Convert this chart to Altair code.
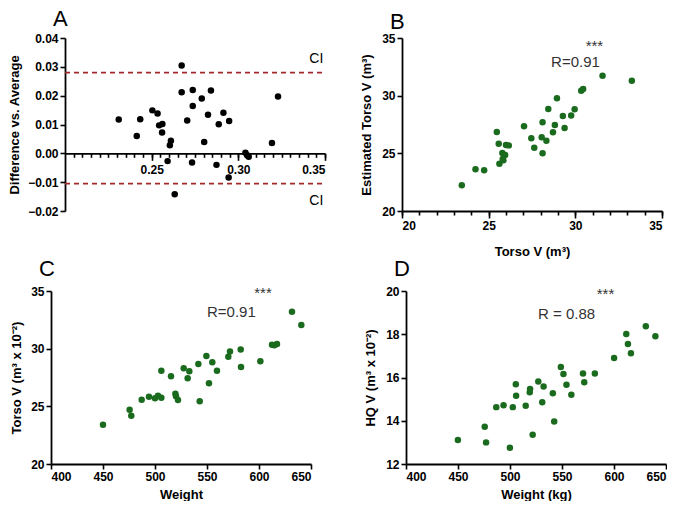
import altair as alt
import pandas as pd

FONT = "Liberation Sans"
GREEN = "#1b6b1f"
RED = "#a3282b"

# ---------------- Panel A (Bland-Altman) ----------------
a_avg = [0.231, 0.2414, 0.2434, 0.2504, 0.2534, 0.2543, 0.2562, 0.2560, 0.2592, 0.2605,
         0.2611, 0.2633, 0.2673, 0.2673, 0.2705, 0.2733, 0.2737, 0.2737, 0.2789, 0.2803,
         0.2825, 0.2842, 0.2874, 0.2887, 0.2914, 0.2944, 0.2947, 0.3041, 0.3051, 0.3060,
         0.3194, 0.3229]
a_diff = [0.0117, 0.0060, 0.0118, 0.0149, 0.0138, 0.0097, 0.0102, 0.0072, -0.0027, 0.0028,
          0.0044, -0.0142, 0.0305, 0.0212, 0.0114, -0.0032, 0.0164, 0.0220, 0.0190, 0.0039,
          0.0134, 0.0218, -0.0040, 0.0101, 0.0141, -0.0084, 0.0112, 0.0002, -0.0007, -0.0012,
          0.0036, 0.0197]
ci_limits = [0.028, -0.0105]
ci_labels = ["CI", "CI"]
ci_label_y = [0.0327, -0.0165]
ci_label_x = [0.349, 0.349]
a_x_domain = [0.2, 0.35]
a_x_ticks = [0.25, 0.30, 0.35]
a_x_minor = [round(0.2 + 0.005 * i, 3) for i in range(1, 31)]
a_y_ticks = [-0.02, -0.01, 0.0, 0.01, 0.02, 0.03, 0.04]

# ---------------- Panel B ----------------
b_torso = [23.45, 24.24, 24.74, 25.47, 25.58, 25.62, 25.79, 25.81, 25.95, 25.85,
           26.00, 26.16, 27.04, 27.46, 27.63, 28.06, 28.11, 28.11, 28.33, 28.44,
           28.71, 28.82, 28.94, 29.28, 29.38, 29.76, 29.96, 30.34, 30.45, 31.57, 33.26]
b_est = [22.23, 23.61, 23.53, 26.85, 25.84, 24.10, 25.03, 24.51, 24.86, 24.39,
         25.72, 25.69, 27.34, 26.30, 25.49, 26.39, 27.69, 25.00, 26.10, 28.84,
         26.82, 27.46, 29.77, 28.24, 27.20, 28.29, 28.82, 30.43, 30.58, 31.73, 31.30]
b_ticks = [20, 25, 30, 35]
b_x_minor = list(range(20, 36))

# ---------------- Panel C ----------------
c_weight = [450.0, 475.6, 477.2, 487.2, 494.2, 500.0, 502.9, 506.1, 506.1, 515.4,
            519.6, 520.2, 522.1, 527.6, 531.4, 533.0, 541.7, 543.0, 549.4, 551.9,
            555.1, 559.6, 570.5, 572.1, 582.4, 582.7, 601.3, 612.5, 614.7, 617.3,
            631.7, 640.7]
c_torso = [23.40, 24.70, 24.18, 25.57, 25.83, 25.71, 25.91, 25.74, 28.08, 27.61,
           26.09, 25.88, 25.54, 28.31, 27.44, 28.05, 28.68, 25.45, 29.37, 27.01,
           28.83, 28.08, 29.29, 29.75, 29.92, 28.42, 28.91, 30.33, 30.30, 30.41,
           33.21, 32.06]
weight_ticks = [400, 450, 500, 550, 600, 650]
c_y_ticks = [20, 25, 30, 35]

# ---------------- Panel D ----------------
d_weight = [449.9, 475.7, 477.0, 486.8, 493.8, 499.9, 502.7, 505.6, 505.9, 515.1,
            519.3, 519.0, 521.8, 527.2, 531.0, 532.3, 541.2, 542.5, 548.9, 551.4,
            554.3, 559.0, 570.2, 571.4, 581.6, 600.1, 611.8, 613.4, 616.3, 630.6, 639.8]
d_hq = [13.11, 13.72, 13.00, 14.63, 14.72, 12.75, 14.63, 15.69, 15.16, 14.69,
        15.47, 15.32, 13.35, 15.82, 14.86, 15.58, 15.27, 13.97, 16.49, 16.16,
        15.66, 15.20, 16.19, 15.78, 16.18, 16.90, 18.01, 17.55, 17.12, 18.37, 17.91]
d_y_ticks = [12, 14, 16, 18, 20]

# annotations (data coordinates)
ann_b = {"x": [31.1, 28.6], "y": [34.3, 32.9], "t": ["***", "R=0.91"]}
ann_c = {"x": [603.8, 550.0], "y": [34.85, 33.18], "t": ["***", "R=0.91"]}
ann_d = {"x": [591.8, 526.9], "y": [19.85, 18.94], "t": ["***", "R = 0.88"]}

W, H = 260, 173
PAD = 14  # extra room left of panel A's y axis (panel A sits further right than C)


def panel_title(letter, off, dx=-12):
    return alt.TitleParams(letter, anchor="start", frame="group", dx=dx,
                           fontSize=22, fontWeight="normal", font=FONT,
                           color="black", offset=off)


def annotations(d, xenc, yenc):
    df = pd.DataFrame(d)
    stars = alt.Chart(df[df.t == "***"]).mark_text(
        font=FONT, fontSize=15, color="#333333", align="center", baseline="middle"
    ).encode(x=xenc("x:Q"), y=yenc("y:Q"), text="t:N")
    r = alt.Chart(df[df.t != "***"]).mark_text(
        font=FONT, fontSize=15, color="#333333", align="left", baseline="middle"
    ).encode(x=xenc("x:Q"), y=yenc("y:Q"), text="t:N")
    return [stars, r]


# ----- Panel A -----
dfA = pd.DataFrame({"avg": a_avg, "diff": a_diff})
dfCI = pd.DataFrame({"ci": ci_limits, "lab": ci_labels, "ly": ci_label_y, "lx": ci_label_x})
xsA = alt.Scale(domain=a_x_domain, range=[PAD, W + PAD], nice=False, zero=False)
ysA = alt.Scale(domain=[-0.02, 0.04], nice=False, zero=False)
x_off = -H / 3.0
axA = alt.Axis(values=a_x_ticks, format=".2f", title=None, offset=x_off,
               orient="bottom", tickSize=7, labelPadding=4)


def xA(f):
    return alt.X(f, scale=xsA, axis=axA)


def yA(f):
    return alt.Y(f, scale=ysA,
                 axis=alt.Axis(values=a_y_ticks, format=".2f", offset=-PAD,
                               title="Difference vs. Average"))


ptsA = alt.Chart(dfA).mark_circle(size=42, color="black", opacity=1).encode(
    x=xA("avg:Q"), y=yA("diff:Q"))
rulesA = alt.Chart(dfCI).mark_rule(color=RED, strokeDash=[5, 4], strokeWidth=1.6).encode(
    x=alt.X(datum=a_x_domain[0], type="quantitative", scale=xsA, axis=axA),
    x2=alt.X2(datum=a_x_domain[1]),
    y=yA("ci:Q"))
ciText = alt.Chart(dfCI).mark_text(font=FONT, fontSize=14, align="right",
                                   baseline="middle", color="black").encode(
    x=xA("lx:Q"), y=yA("ly:Q"), text="lab:N")
minorA = alt.Chart(dfA).mark_circle(opacity=0).encode(
    x=alt.X("avg:Q", scale=xsA,
            axis=alt.Axis(values=a_x_minor, labels=False, domain=False, title=None,
                          offset=x_off, orient="bottom", tickSize=4)),
    y=yA("diff:Q"))
chartA = alt.layer(alt.layer(rulesA, ptsA, ciText), minorA).resolve_axis(
    x="independent").properties(width=W + PAD, height=H,
                                title=panel_title("A", 1, dx=PAD - 12))

# ----- Panel B -----
dfB = pd.DataFrame({"torso": b_torso, "est": b_est})
xsB = alt.Scale(domain=[20, 35], nice=False, zero=False)
ysB = alt.Scale(domain=[20, 35], nice=False, zero=False)


def xB(f):
    return alt.X(f, scale=xsB,
                 axis=alt.Axis(values=b_ticks, title="Torso V (m³)", orient="bottom",
                               tickSize=7, titlePadding=14))


def yB(f):
    return alt.Y(f, scale=ysB, axis=alt.Axis(values=b_ticks, title="Estimated Torso V (m³)",
                                              titlePadding=8))


ptsB = alt.Chart(dfB).mark_circle(size=42, color=GREEN, opacity=1).encode(
    x=xB("torso:Q"), y=yB("est:Q"))
minorB = alt.Chart(dfB).mark_circle(opacity=0).encode(
    x=alt.X("torso:Q", scale=xsB,
            axis=alt.Axis(values=b_x_minor, labels=False, domain=False, title=None,
                          orient="bottom", tickSize=4)),
    y=yB("est:Q"))
chartB = alt.layer(alt.layer(ptsB, *annotations(ann_b, xB, yB)), minorB).resolve_axis(
    x="independent").properties(width=W, height=H, title=panel_title("B", -2))

# ----- Panel C -----
dfC = pd.DataFrame({"w": c_weight, "t": c_torso})
xsW = alt.Scale(domain=[400, 650], nice=False, zero=False)
ysC = alt.Scale(domain=[20, 35], nice=False, zero=False)


def xC(f):
    return alt.X(f, scale=xsW, axis=alt.Axis(values=weight_ticks, title="Weight"))


def yC(f):
    return alt.Y(f, scale=ysC, axis=alt.Axis(values=c_y_ticks, title="Torso V (m³ x 10⁻²)",
                                              titlePadding=7))


ptsC = alt.Chart(dfC).mark_circle(size=42, color=GREEN, opacity=1).encode(
    x=xC("w:Q"), y=yC("t:Q"))
chartC = alt.layer(ptsC, *annotations(ann_c, xC, yC)).properties(
    width=W, height=H, title=panel_title("C", 4))

# ----- Panel D -----
dfD = pd.DataFrame({"w": d_weight, "hq": d_hq})
ysD = alt.Scale(domain=[12, 20], nice=False, zero=False)


def xD(f):
    return alt.X(f, scale=xsW, axis=alt.Axis(values=weight_ticks, title="Weight (kg)"))


def yD(f):
    return alt.Y(f, scale=ysD, axis=alt.Axis(values=d_y_ticks, title="HQ V (m³ x 10⁻²)",
                                              titlePadding=8))


ptsD = alt.Chart(dfD).mark_circle(size=42, color=GREEN, opacity=1).encode(
    x=xD("w:Q"), y=yD("hq:Q"))
chartD = alt.layer(ptsD, *annotations(ann_d, xD, yD)).properties(
    width=W, height=H, title=panel_title("D", 4))

row1 = alt.hconcat(chartA, chartB, spacing=34)
row2 = alt.hconcat(chartC, chartD, spacing=52)
chart = alt.vconcat(row1, row2, spacing=0).properties(
    padding=0).configure_view(stroke=None).configure_axis(
    labelFont=FONT, titleFont=FONT, labelFontSize=12, titleFontSize=13,
    labelFontWeight="bold", titleFontWeight="bold", labelColor="black",
    titleColor="black", domainColor="black", tickColor="black", domainWidth=1.8,
    tickWidth=1.6, tickSize=5, labelPadding=2, titlePadding=6, grid=False
)

chart.save("out.html", embed_options={"renderer": "svg", "actions": False})
